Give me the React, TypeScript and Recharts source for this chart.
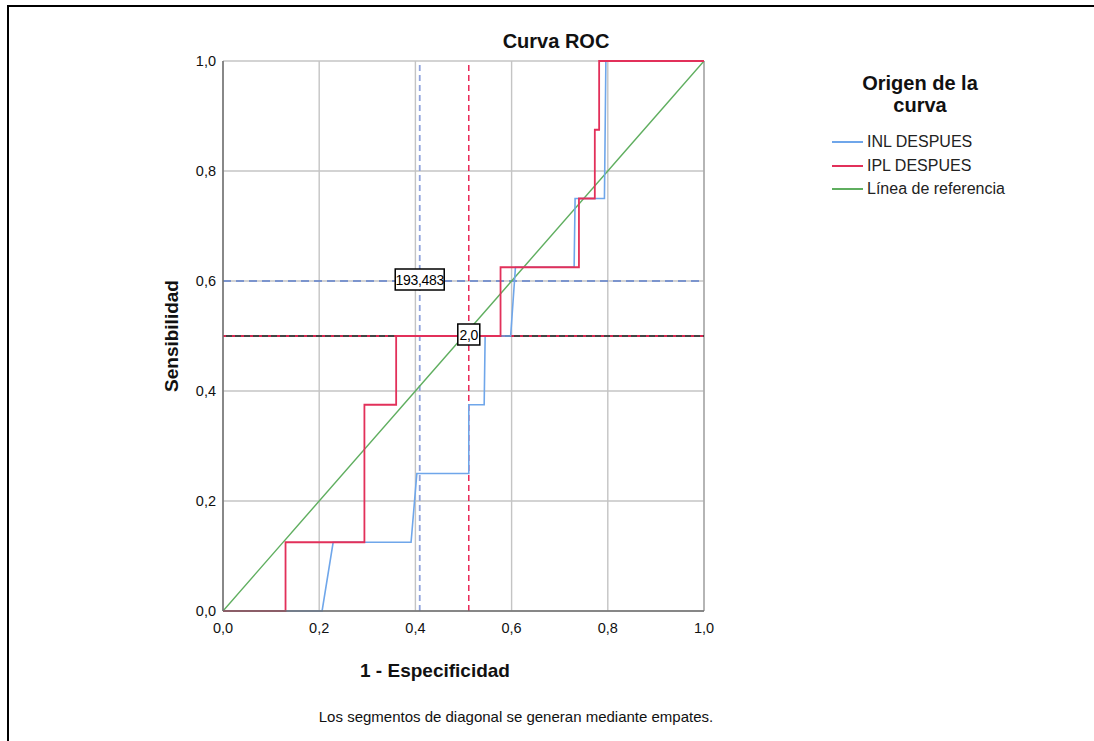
import React from "react";
import {
  LineChart,
  Line,
  XAxis,
  YAxis,
  CartesianGrid,
  ReferenceLine,
  ReferenceDot,
} from "recharts";

// ROC curve points (1 - especificidad, sensibilidad)
const inlX = [0, 0.206, 0.229, 0.391, 0.403, 0.511, 0.511, 0.543, 0.545, 0.598, 0.608, 0.73, 0.732, 0.793, 0.796, 1];
const inlY = [0, 0, 0.125, 0.125, 0.25, 0.25, 0.375, 0.375, 0.5, 0.5, 0.625, 0.625, 0.75, 0.75, 1, 1];

const iplX = [0, 0.13, 0.13, 0.294, 0.294, 0.36, 0.36, 0.577, 0.577, 0.74, 0.74, 0.773, 0.773, 0.782, 0.782, 1];
const iplY = [0, 0, 0.125, 0.125, 0.375, 0.375, 0.5, 0.5, 0.625, 0.625, 0.75, 0.75, 0.875, 0.875, 1, 1];

const refX = [0, 1];
const refY = [0, 1];

const ticks = [0, 0.2, 0.4, 0.6, 0.8, 1];

// cut-off points marked on the chart
const inlCut = { x: 0.409, y: 0.6, label: "193,483" };
const iplCut = { x: 0.511, y: 0.5, label: "2,0" };

const legendItems = [
  { name: "INL DESPUES", color: "#6fa6ea" },
  { name: "IPL DESPUES", color: "#e2305a" },
  { name: "Línea de referencia", color: "#5fae5f" },
];

const toPoints = (xs: number[], ys: number[]) => xs.map((x, i) => ({ x, y: ys[i] }));

const inlData = toPoints(inlX, inlY);
const iplData = toPoints(iplX, iplY);
const refData = toPoints(refX, refY);

const FONT = "'Liberation Sans', Arial, sans-serif";

const fmt = (v: number) => v.toFixed(1).replace(".", ",");

// small boxed label drawn at a cut-off point
const boxLabel = (text: string, w: number) => (props: any) => {
  const { cx, cy } = props;
  return (
    <g>
      <rect x={cx - w / 2} y={cy - 12} width={w} height={21} fill="#fff" stroke="#000" strokeWidth={1.5} />
      <text x={cx} y={cy + 4} textAnchor="middle" fontSize={14} fontFamily={FONT} fill="#000" letterSpacing={-0.3}>
        {text}
      </text>
    </g>
  );
};

export default function App() {
  return (
    <div style={{ position: "absolute", left: 0, top: 0, width: 1094, height: 741, background: "#fff", fontFamily: FONT }}>
      <div
        style={{
          position: "absolute",
          left: 7,
          top: 5,
          width: 1087,
          height: 736,
          boxSizing: "border-box",
          borderTop: "2px solid #000",
          borderLeft: "2px solid #000",
        }}
      />
      <div style={{ position: "absolute", left: 0, top: 0 }}>
        <LineChart width={1094} height={741} margin={{ top: 61, left: 163, right: 390, bottom: 100 }}>
          <CartesianGrid stroke="#c4c4c4" strokeWidth={1.4} vertical horizontal />
          <XAxis
            dataKey="x"
            type="number"
            domain={[0, 1]}
            ticks={ticks}
            tickFormatter={fmt}
            height={30}
            tickSize={0}
            tickMargin={12}
            tickLine={false}
            axisLine={{ stroke: "#6e6e6e", strokeWidth: 1.5 }}
            tick={{ fontSize: 14.5, fill: "#111", fontFamily: FONT }}
          />
          <YAxis
            dataKey="y"
            type="number"
            domain={[0, 1]}
            ticks={ticks}
            tickFormatter={fmt}
            width={60}
            tickSize={0}
            tickMargin={7}
            tickLine={false}
            axisLine={{ stroke: "#6e6e6e", strokeWidth: 1.5 }}
            tick={{ fontSize: 14.5, fill: "#111", fontFamily: FONT }}
          />
          <ReferenceLine x={1} stroke="#a0a0a0" strokeWidth={1.2} />
          <ReferenceLine x={inlCut.x} stroke="#8ea2dc" strokeWidth={1.8} strokeDasharray="6 4" />
          <ReferenceLine y={inlCut.y} stroke="#5f80cc" strokeWidth={1.6} strokeDasharray="8 5" />
          <ReferenceLine y={iplCut.y} stroke="#444" strokeWidth={2} />
          <ReferenceLine x={iplCut.x} stroke="#e8174b" strokeWidth={1.4} strokeDasharray="6 4" />
          <ReferenceLine y={iplCut.y} stroke="#d8264f" strokeWidth={2} strokeDasharray="3 6" />
          <Line data={refData} dataKey="y" type="linear" stroke="#5fae5f" strokeWidth={1.4} dot={false} isAnimationActive={false} />
          <Line data={inlData} dataKey="y" type="linear" stroke="#6fa6ea" strokeWidth={1.6} dot={false} isAnimationActive={false} />
          <Line data={iplData} dataKey="y" type="linear" stroke="#e2305a" strokeWidth={1.8} dot={false} isAnimationActive={false} />
          <ReferenceDot x={inlCut.x} y={inlCut.y} r={0} shape={boxLabel(inlCut.label, 49)} />
          <ReferenceDot x={iplCut.x} y={iplCut.y} r={0} shape={boxLabel(iplCut.label, 22)} />
        </LineChart>
      </div>

      <div style={{ position: "absolute", left: 456, top: 30, width: 200, textAlign: "center", fontSize: 20, fontWeight: "bold", color: "#111" }}>
        Curva ROC
      </div>
      <div
        style={{
          position: "absolute",
          left: 172,
          top: 336,
          transform: "translate(-50%, -50%) rotate(-90deg)",
          fontSize: 19,
          fontWeight: "bold",
          whiteSpace: "nowrap",
          color: "#111",
        }}
      >
        Sensibilidad
      </div>
      <div style={{ position: "absolute", left: 335, top: 660, width: 200, textAlign: "center", fontSize: 19, fontWeight: "bold", color: "#111" }}>
        1 - Especificidad
      </div>
      <div style={{ position: "absolute", left: 216, top: 708, width: 600, textAlign: "center", fontSize: 15, color: "#111" }}>
        Los segmentos de diagonal se generan mediante empates.
      </div>

      <div style={{ position: "absolute", left: 820, top: 72, width: 200, textAlign: "center", fontSize: 20, fontWeight: "bold", lineHeight: "22px", color: "#111" }}>
        Origen de la
        <br />
        curva
      </div>
      {legendItems.map((it, i) => (
        <div key={it.name} style={{ position: "absolute", left: 832, top: 132 + i * 23.5, height: 20, display: "flex", alignItems: "center" }}>
          <div style={{ width: 31, height: 2, background: it.color, marginRight: 4 }} />
          <span style={{ fontSize: 16, color: "#222", whiteSpace: "nowrap" }}>{it.name}</span>
        </div>
      ))}
    </div>
  );
}
